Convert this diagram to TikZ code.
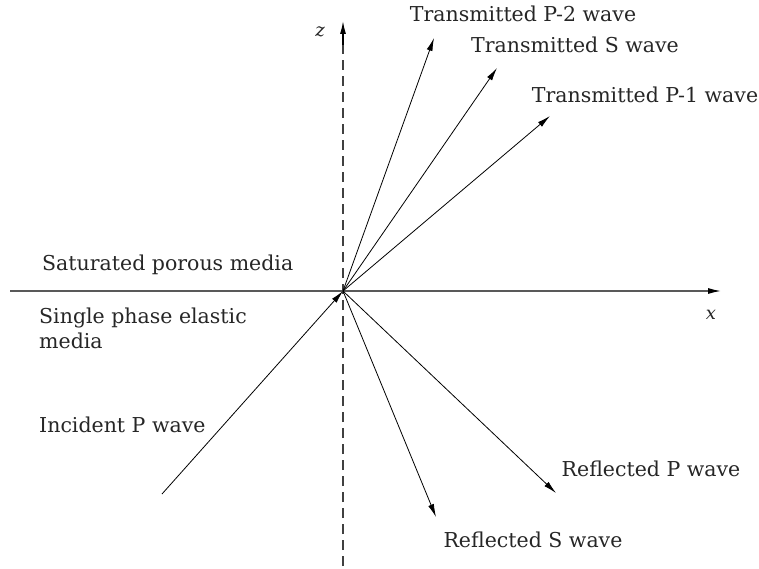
\documentclass[tikz,border=0pt]{standalone}
\usepackage{fontspec}
\setmainfont{DejaVu Serif}
\usetikzlibrary{arrows.meta}
\begin{document}
\begin{tikzpicture}[x=1pt,y=-1pt,
  lbl/.style={inner sep=0pt,font=\fontsize{20.5}{25}\selectfont,text=black!85},
  wave/.style={line width=0.8pt,-{Latex[length=13pt,width=6pt]}},
  axis/.style={line width=1.3pt,black!65,-{Latex[length=13pt,width=6pt,black]}}]
\useasboundingbox (0,0) rectangle (759,569);
\coordinate (O) at (343,291);
\coordinate (zb) at (343,566);
\coordinate (zt) at (343,21);
\coordinate (xl) at (10,291);
\coordinate (xr) at (721,291);
\coordinate (t2) at (434,38);
\coordinate (ts) at (497,68);
\coordinate (t1) at (550,116);
\coordinate (inc) at (162,494);
\coordinate (rp) at (556,493);
\coordinate (rs) at (436,517);
% axes
\draw[line width=1.3pt,black!75,dash pattern=on 10pt off 6pt] (zb) -- (343,40);
\draw[line width=1.3pt,black,-{Latex[length=13pt,width=6pt]}] (343,45) -- (zt);
\draw[axis] (xl) -- (xr);
\node[lbl,font=\fontsize{18}{20}\selectfont\itshape] (zlab) at (320,32) {z};
\node[lbl,font=\fontsize{18}{20}\selectfont\itshape] (xlab) at (711,315) {x};
% waves
\draw[wave] (O) -- (t2);
\draw[wave] (O) -- (ts);
\draw[wave] (O) -- (t1);
\draw[wave] (inc) -- (O);
\draw[wave] (O) -- (rp);
\draw[wave] (O) -- (rs);
% labels
\node[lbl] (lt2) at (523,14) {Transmitted P-2 wave};
\node[lbl] (lts) at (575,45) {Transmitted S wave};
\node[lbl] (lt1) at (645,95) {Transmitted P-1 wave};
\node[lbl,anchor=west] (lsat) at (42,265) {Saturated porous media};
\node[lbl,anchor=west,align=left] (lsin) at (39,328) {Single phase elastic\\media};
\node[lbl,anchor=west] (linc) at (39,425) {Incident P wave};
\node[lbl] (lrp) at (651,469) {Reflected P wave};
\node[lbl] (lrs) at (533,540) {Reflected S wave};
\end{tikzpicture}
\end{document}
